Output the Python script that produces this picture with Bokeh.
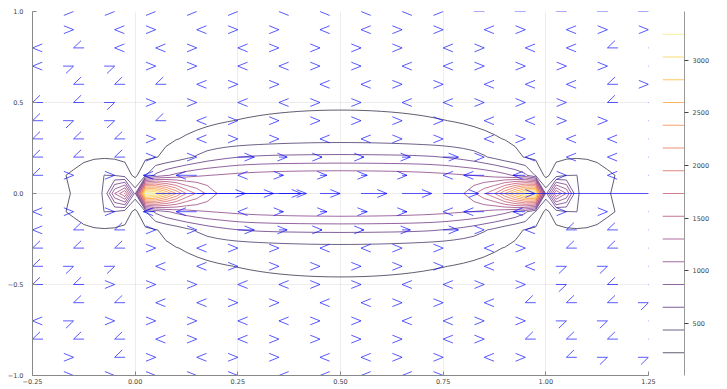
import math
import numpy as np
from bokeh.plotting import figure
from bokeh.layouts import row
from bokeh.models import Range1d, FixedTicker
from bokeh.embed import file_html
from bokeh.resources import INLINE
from bokeh.palettes import Inferno256

# ---------------- quiver data ----------------
quiver_x = [-0.25, -0.15, -0.05, 0.05, 0.15, 0.25, 0.35, 0.45, 0.55, 0.65, 0.75, 0.85, 0.95, 1.05, 1.15, 1.25]
quiver_y = [1.0, 0.9, 0.8, 0.7, 0.6, 0.5, 0.4, 0.3, 0.2, 0.1, 0.0,
            -0.1, -0.2, -0.3, -0.4, -0.5, -0.6, -0.7, -0.8, -0.9, -1.0]
# arrow-head direction per grid point: R right, L left, r right-up, l left-down, d right-down, . none
quiver_heads = [
    ".RRRRRLLLLRddddd",
    "RRLRLRRLLRRLRLRR",
    "LlLLRLRRRRLRLLlL",
    "LrrRRLLRRLLRRRRL",
    "RlllLRRLLRRLLLlR",
    "llrRRLLRRLLRRRlL",
    "lrrlLRRRRRRLLRRL",
    "lllRLRRLLRRLRLLL",
    "lllRRRRRRRRRLLLL",
    "lRRLLLRRRRLLLRLL",
    "...RRRRRRRRRR...",
    "LRRLLLRRRRLLLRRL",
    "LllRRRRRRRRRLllL",
    "lllRLRRLLRRLRllL",
    "lrrLLRRRRRRLLrrL",
    "llRRRLLRRLLRRrlL",
    "RllLLRRLLRRLlllr",
    "LrRRRLLRRLLRRrrL",
    "lllLRLRRRRLRlllL",
    "RRlRLRRLLRRLRlrr",
    ".RRRRRLLLLRrrrrr",
]
# x-components of the visible arrow shafts (rows y = 0, +-0.1, +-0.2)
shaft_u_y0 = [0, 0, 0, 0.355, 0.118, 0.087, 0.067, 0.049, 0.063, 0.072, 0.086, 0.124, 0.36, 0, 0, 0]
shaft_u_y1 = [0, 0, 0, -0.03, -0.05, 0, 0.011, 0.017, 0.015, 0.012, 0, -0.05, -0.03, 0, 0, 0]
shaft_u_y2 = [0, 0, 0, 0, 0, 0.04, 0.02, 0.005, 0.007, 0.02, 0.037, 0, 0, 0, 0, 0]

# ---------------- field magnitude (contours) ----------------
grid_x = np.round(np.linspace(-0.25, 1.25, 61), 4)
grid_y = np.round(np.linspace(-1.0, 1.0, 21), 4)
# rows y = 0, +-0.1, +-0.2 for x = -0.25 .. 0.5 step 0.025 (mirrored about x = 0.5)
row_y00_half = [6, 30, 90, 160, 250, 340, 400, 450, 1300, 1750, 560, 3462, 3280, 2830, 2382,
                1930, 1700, 1480, 1300, 1285, 1278, 1274, 1271, 1269, 1268, 1267, 1266, 1266,
                1265, 1265, 1265]
row_y01_half = [150, 165, 185, 212, 250, 310, 380, 440, 430, 330, 170, 420, 700, 840, 930,
                1000, 1050, 1080, 1100, 1120, 1140, 1155, 1170, 1180, 1190, 1197, 1203, 1208,
                1211, 1213, 1215]
row_y02_half = [90, 100, 115, 135, 160, 185, 200, 205, 195, 180, 180, 185, 215, 250, 310,
                390, 460, 530, 580, 620, 650, 668, 678, 685, 690, 693, 695, 697, 698, 699, 700]
wire_strength = 140.0
end_falloff = 0.26
z_min, z_max = 6.0, 3462.0
n_bands = 16
cbar_ticks = [500, 1000, 1500, 2000, 2500, 3000]


def mirror(half):
    return np.array(list(half) + list(half[-2::-1]), dtype=float)


explicit_rows = {0.0: row_y00_half, 0.1: row_y01_half, 0.2: row_y02_half}
Z = np.zeros((len(grid_y), len(grid_x)))
for j, yv in enumerate(grid_y):
    ay = round(abs(float(yv)), 4)
    if ay in explicit_rows:
        Z[j] = mirror(explicit_rows[ay])
    else:
        r1 = np.hypot(grid_x, ay)
        r2 = np.hypot(1 - grid_x, ay)
        base = wire_strength / (2 * ay) * ((1 - grid_x) / r2 + grid_x / r1)
        s = (1 - np.exp(-(r1 / end_falloff) ** 1.5)) * (1 - np.exp(-(r2 / end_falloff) ** 1.5))
        Z[j] = base * s

levels = [z_min + (z_max - z_min) * k / n_bands for k in range(1, n_bands)]
level_colors = [Inferno256[int(round(k / n_bands * 255))] for k in range(1, n_bands)]

# ---------------- layout ----------------
FIG_H = 386
BT, BB = 11, 11
BL, BR = 32, 8
MAIN_W = 656
FW = MAIN_W - BL - BR
FH = FIG_H - BT - BB
XR = (-0.25, 1.25)
YR = (-1.0, 1.0)

p = figure(width=MAIN_W, height=FIG_H, x_range=Range1d(*XR), y_range=Range1d(*YR),
           output_backend="svg", toolbar_location=None,
           min_border_left=BL, min_border_right=BR, min_border_top=BT, min_border_bottom=BB)
p.outline_line_color = None
p.background_fill_color = "white"

p.contour(x=grid_x, y=grid_y, z=Z, levels=levels, line_color=level_colors,
          line_width=1.0, line_alpha=0.65, fill_color=None)

# quiver
sx = (XR[1] - XR[0]) / FW
sy = (YR[1] - YR[0]) / FH
HL, HA = 10.5, 22.0
ANG = {"R": 0.0, "L": 180.0, "r": 22.0, "l": 202.0, "d": -22.0, "u": 158.0}
shafts = {10: shaft_u_y0, 9: shaft_u_y1, 11: shaft_u_y1, 8: shaft_u_y2, 12: shaft_u_y2}
hx, hy = [], []
s_x0, s_y0, s_x1, s_y1 = [], [], [], []
for j, yv in enumerate(quiver_y):
    codes = quiver_heads[j]
    us = shafts.get(j, [0] * len(quiver_x))
    for i, xv in enumerate(quiver_x):
        c = codes[i]
        if c == ".":
            continue
        u = us[i]
        tx, ty = xv + u, yv
        if u != 0:
            ang = 0.0 if u > 0 else 180.0
            s_x0.append(xv); s_y0.append(yv); s_x1.append(tx); s_y1.append(ty)
        else:
            ang = ANG[c]
        a1 = math.radians(ang + 180 + HA)
        a2 = math.radians(ang + 180 - HA)
        hx.append([tx + HL * math.cos(a1) * sx, tx, tx + HL * math.cos(a2) * sx])
        hy.append([ty + HL * math.sin(a1) * sy, ty, ty + HL * math.sin(a2) * sy])

ARROW = "#0000ff"
p.segment(x0=s_x0, y0=s_y0, x1=s_x1, y1=s_y1, line_color=ARROW, line_width=1, line_alpha=0.65)
p.multi_line(xs=hx, ys=hy, line_color=ARROW, line_width=1, line_alpha=0.65)

FONT = "DejaVu Sans"
LBL = "#444444"
xt = [-0.25, 0.0, 0.25, 0.5, 0.75, 1.0, 1.25]
yt = [-1.0, -0.5, 0.0, 0.5, 1.0]
p.xaxis.ticker = FixedTicker(ticks=xt)
p.yaxis.ticker = FixedTicker(ticks=yt)
p.xaxis.major_label_overrides = {v: (f"{v:.2f}").replace("-", "\u2212") for v in xt}
p.yaxis.major_label_overrides = {v: (f"{v:.1f}").replace("-", "\u2212") for v in yt}
for ax in (p.xaxis[0], p.yaxis[0]):
    ax.axis_line_color = "#888888"
    ax.major_tick_line_color = "#888888"
    ax.major_tick_in = 4
    ax.major_tick_out = 0
    ax.minor_tick_line_color = None
    ax.major_label_text_font = FONT
    ax.major_label_text_font_size = "6.5px"
    ax.major_label_text_color = LBL
p.xaxis.major_label_standoff = 3
p.yaxis.major_label_standoff = 9
p.grid.grid_line_color = "#000000"
p.grid.grid_line_alpha = 0.07

# ---------------- colour bar ----------------
CB_W = 71
cb = figure(width=CB_W, height=FIG_H, x_range=Range1d(0, 1), y_range=Range1d(z_min, z_max),
            output_backend="svg", toolbar_location=None, x_axis_location=None,
            y_axis_location="right", min_border_left=6, min_border_right=CB_W - 6 - 22,
            min_border_top=BT, min_border_bottom=BB)
cb.outline_line_color = None
cb.grid.visible = False
cb.segment(x0=[0] * len(levels), x1=[1] * len(levels), y0=levels, y1=levels,
           line_color=level_colors, line_width=1, line_alpha=0.65)
cax = cb.yaxis[0]
cax.ticker = FixedTicker(ticks=cbar_ticks)
cax.axis_line_color = "#999999"
cax.major_tick_line_color = "#444444"
cax.major_tick_in = 0
cax.major_tick_out = 4
cax.minor_tick_line_color = None
cax.major_label_text_font = FONT
cax.major_label_text_font_size = "6.5px"
cax.major_label_text_color = LBL
cax.major_label_standoff = 4

layout = row(p, cb)
open("out.html", "w").write(file_html(layout, INLINE))
